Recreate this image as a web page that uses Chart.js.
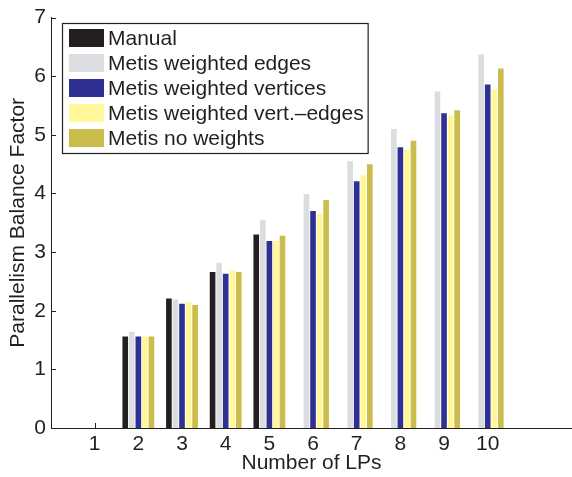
<!DOCTYPE html>
<html>
<head>
<meta charset="utf-8">
<script src="https://cdn.jsdelivr.net/npm/chart.js@4.4.1/dist/chart.umd.min.js"></script>
<style>
  html, body { margin: 0; padding: 0; background: #fff; }
  #chart { display: block; }
</style>
</head>
<body>
<canvas id="chart" width="572" height="477"></canvas>
<script>
/* ── Data ── */
const LPS = [1, 2, 3, 4, 5, 6, 7, 8, 9, 10];
const MANUAL       = [0, 1.56, 2.21, 2.66, 3.30, 0,    0,    0,    0,    0];
const W_EDGES      = [0, 1.64, 2.19, 2.82, 3.55, 3.99, 4.55, 5.10, 5.74, 6.37];
const W_VERTICES   = [0, 1.56, 2.12, 2.63, 3.19, 3.70, 4.21, 4.79, 5.37, 5.86];
const W_VERT_EDGES = [0, 1.56, 2.15, 2.68, 3.19, 3.66, 4.31, 4.74, 5.33, 5.78];
const NO_WEIGHTS   = [0, 1.56, 2.10, 2.66, 3.28, 3.89, 4.50, 4.90, 5.42, 6.13];
const Y_TICKS = [0, 1, 2, 3, 4, 5, 6, 7];
// the source figure is cut a few pixels short of its x limit (12)
const X_MIN = 0, X_MAX = 11.93;

/* ── Colors ── */
const COLORS = {
  manual: '#231f20',
  edges: '#dcdde0',
  vertices: '#2e3192',
  vertEdges: '#fff799',
  noWeights: '#cbbd4c',
  axis: '#231f20',
};
const FONT = "'Liberation Sans', Arial, Helvetica, sans-serif";

const points = arr => LPS.map((lp, i) => ({ x: lp, y: arr[i] }));

/* ── Plugins ── */
const inwardTicks = {
  id: 'inwardTicks',
  beforeDatasetsDraw(chart) {
    const { ctx, chartArea, scales: { x, y } } = chart;
    ctx.save();
    ctx.strokeStyle = COLORS.axis;
    ctx.lineWidth = 1;
    ctx.beginPath();
    Y_TICKS.forEach(v => {
      const py = Math.round(y.getPixelForValue(v)) + 0.5;
      ctx.moveTo(chartArea.left, py);
      ctx.lineTo(chartArea.left + 5, py);
    });
    LPS.forEach(c => {
      const px = Math.round(x.getPixelForValue(c)) + 0.5;
      ctx.moveTo(px, chartArea.bottom);
      ctx.lineTo(px, chartArea.bottom - 5);
    });
    ctx.stroke();
    ctx.restore();
  }
};

const boxLegend = {
  id: 'boxLegend',
  afterDraw(chart) {
    const { ctx } = chart;
    const ds = chart.data.datasets;
    const left = 62, top = 23, rowH = 25, firstY = 38;
    const textX = 108;
    ctx.save();
    ctx.font = '21px ' + FONT;
    const maxW = Math.max(...ds.map(d => ctx.measureText(d.label).width));
    const right = textX + maxW + 4;
    const bottom = firstY + rowH * (ds.length - 1) + 15;
    ctx.fillStyle = '#fff';
    ctx.fillRect(left, top, right - left, bottom - top);
    ctx.strokeStyle = COLORS.axis;
    ctx.lineWidth = 1.2;
    ctx.strokeRect(left + 0.5, top + 0.5, right - left, bottom - top);
    ds.forEach((d, i) => {
      const cy = firstY + rowH * i;
      ctx.fillStyle = d.backgroundColor;
      ctx.fillRect(69, cy - 9, 35, 18);
      ctx.fillStyle = COLORS.axis;
      ctx.textBaseline = 'middle';
      ctx.fillText(d.label, textX, cy + 1);
    });
    ctx.restore();
  }
};

/* ── Chart ── */
Chart.defaults.font.family = FONT;
Chart.defaults.font.size = 21;
Chart.defaults.color = COLORS.axis;

const bar = (label, data, color) => ({
  label, data: points(data), backgroundColor: color, borderWidth: 0,
  categoryPercentage: 0.75, barPercentage: 0.86,
});

new Chart(document.getElementById('chart'), {
  type: 'bar',
  data: {
    datasets: [
      bar('Manual', MANUAL, COLORS.manual),
      bar('Metis weighted edges', W_EDGES, COLORS.edges),
      bar('Metis weighted vertices', W_VERTICES, COLORS.vertices),
      bar('Metis weighted vert.\u2013edges', W_VERT_EDGES, COLORS.vertEdges),
      bar('Metis no weights', NO_WEIGHTS, COLORS.noWeights),
    ]
  },
  options: {
    responsive: false,
    animation: false,
    devicePixelRatio: 1,
    layout: { padding: { top: 15, right: 0, left: 0, bottom: 0 } },
    plugins: {
      legend: { display: false },
      tooltip: { enabled: false },
    },
    scales: {
      x: {
        type: 'linear',
        min: X_MIN,
        max: X_MAX,
        offset: false,
        grid: { display: false, drawTicks: false, offset: false },
        border: { display: true, color: COLORS.axis, width: 1 },
        ticks: { autoSkip: false, maxRotation: 0, padding: 4, color: COLORS.axis, font: { size: 21 } },
        afterBuildTicks: s => { s.ticks = LPS.map(v => ({ value: v })); },
        title: { display: true, text: 'Number of LPs', color: COLORS.axis, font: { size: 21 }, padding: { top: 0, bottom: 1 } },
        afterFit: s => { s.height = 49; },
      },
      y: {
        min: 0,
        max: 7,
        grid: { display: false, drawTicks: false },
        border: { display: true, color: COLORS.axis, width: 1 },
        ticks: { stepSize: 1, padding: 5, color: COLORS.axis, font: { size: 21 } },
        title: { display: true, text: 'Parallelism Balance Factor', color: COLORS.axis, font: { size: 21 }, padding: { top: 6, bottom: 0 } },
        afterFit: s => { s.width = 51; },
      }
    }
  },
  plugins: [inwardTicks, boxLegend]
});
</script>
</body>
</html>
